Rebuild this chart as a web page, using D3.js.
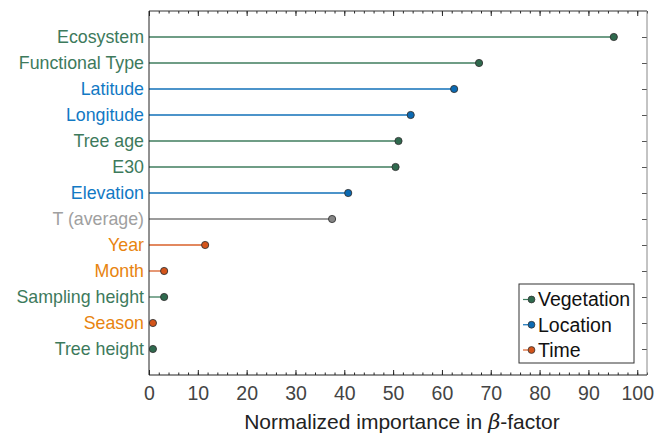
<!DOCTYPE html>
<html>
<head>
<meta charset="utf-8">
<script src="https://cdn.jsdelivr.net/npm/d3@7"></script>
<style>
  body { margin: 0; background: #fff; }
  svg { font-family: "Liberation Sans", Arial, Helvetica, sans-serif; }
</style>
</head>
<body>
<div id="chart"></div>
<script>
// lollipop de importancia normalizada
const variables = ["Ecosystem", "Functional Type", "Latitude", "Longitude", "Tree age", "E30",
  "Elevation", "T (average)", "Year", "Month", "Sampling height", "Season", "Tree height"];
const groups = ["Vegetation", "Vegetation", "Location", "Location", "Vegetation", "Vegetation",
  "Location", "Climate", "Time", "Time", "Vegetation", "Time", "Vegetation"];
const importance = [95.2, 67.6, 62.5, 53.6, 51.1, 50.5, 40.8, 37.5, 11.5, 3.1, 3.1, 0.8, 0.8];
const xTicks = [0, 10, 20, 30, 40, 50, 60, 70, 80, 90, 100];
const legendItems = ["Vegetation", "Location", "Time"];

const STYLE = {
  Vegetation: { text: "#3d7a5c", line: "#3f7d5e", dot: "#2f6a4e" },
  Location: { text: "#1279c4", line: "#1170b8", dot: "#0b6ab3" },
  Time: { text: "#e8840f", line: "#d9602a", dot: "#d4541a" },
  Climate: { text: "#a0a0a0", line: "#7a7a7a", dot: "#858585" },
};

const W = 667, H = 434;
const M = { top: 11, right: 20, bottom: 59, left: 149 };
const innerW = W - M.left - M.right;
const innerH = H - M.top - M.bottom;

const svg = d3.select("#chart").append("svg").attr("width", W).attr("height", H);
const g = svg.append("g").attr("transform", `translate(${M.left},${M.top})`);

const x = d3.scaleLinear().domain([0, 102]).range([0, innerW]);
const y = d3.scaleLinear().domain([0, variables.length + 1]).range([0, innerH]);
const rows = variables.map((v, i) => ({ name: v, group: groups[i], value: importance[i], pos: i + 1 }));

// eixos com ticks para dentro
const minor = d3.range(0, 102.1, 2);
const axisColor = "#262626";

const axBottom = g.append("g").attr("transform", `translate(0,${innerH})`);
axBottom.call(d3.axisBottom(x).tickValues(minor).tickSize(-2.5).tickFormat(""))
  .call((a) => a.select(".domain").remove());
axBottom.append("g").call(d3.axisBottom(x).tickValues(xTicks).tickSize(-5).tickPadding(11))
  .call((a) => a.select(".domain").remove())
  .call((a) => a.selectAll("text").attr("font-size", 19.5).attr("fill", "#444"));
axBottom.selectAll("line").attr("stroke", axisColor);

const axTop = g.append("g");
axTop.call(d3.axisTop(x).tickValues(minor).tickSize(-2.5).tickFormat(""))
  .call((a) => a.select(".domain").remove());
axTop.append("g").call(d3.axisTop(x).tickValues(xTicks).tickSize(-5).tickFormat(""))
  .call((a) => a.select(".domain").remove());
axTop.selectAll("line").attr("stroke", axisColor);

const axRight = g.append("g").attr("transform", `translate(${innerW},0)`);
axRight.call(d3.axisRight(y).tickValues(rows.map((d) => d.pos)).tickSize(-5).tickFormat(""))
  .call((a) => a.select(".domain").remove())
  .call((a) => a.selectAll("line").attr("stroke", "#555"));

// caixa
g.append("line").attr("x1", 0).attr("x2", innerW).attr("y1", 0).attr("y2", 0).attr("stroke", "#333");
g.append("line").attr("x1", innerW).attr("x2", innerW).attr("y1", 0).attr("y2", innerH).attr("stroke", "#888");
g.append("line").attr("x1", 0).attr("x2", innerW).attr("y1", innerH).attr("y2", innerH).attr("stroke", "#222");

// stems
g.selectAll("line.stem").data(rows).join("line")
  .attr("class", "stem")
  .attr("x1", x(0)).attr("x2", (d) => x(d.value))
  .attr("y1", (d) => y(d.pos)).attr("y2", (d) => y(d.pos))
  .attr("stroke", (d) => STYLE[d.group].line)
  .attr("stroke-width", 1.3);

g.append("line").attr("x1", 0).attr("x2", 0).attr("y1", 0).attr("y2", innerH).attr("stroke", "#222");

g.selectAll("circle.dot").data(rows).join("circle")
  .attr("class", "dot")
  .attr("cx", (d) => x(d.value)).attr("cy", (d) => y(d.pos))
  .attr("r", 3.6)
  .attr("fill", (d) => STYLE[d.group].dot)
  .attr("stroke", "#333").attr("stroke-width", 0.9);

// rotulos das variaveis
g.selectAll("text.lbl").data(rows).join("text")
  .attr("class", "lbl")
  .attr("x", -5).attr("y", (d) => y(d.pos))
  .attr("dy", "0.35em")
  .attr("text-anchor", "end")
  .attr("font-size", 17.8)
  .attr("fill", (d) => STYLE[d.group].text)
  .text((d) => d.name);

// titulo do eixo x
const xt = svg.append("text")
  .attr("x", 402).attr("y", H - 5)
  .attr("text-anchor", "middle")
  .attr("font-size", 21).attr("fill", "#222");
xt.append("tspan").text("Normalized importance in ");
xt.append("tspan").attr("font-family", "'DejaVu Serif', serif").attr("font-style", "italic").text("β");
xt.append("tspan").text("-factor");

// legenda
const lg = g.append("g").attr("transform", `translate(${370},${273})`);
lg.append("rect").attr("width", 115).attr("height", 79)
  .attr("fill", "#fff").attr("stroke", "#333").attr("stroke-width", 1);
const ly = d3.scalePoint().domain(legendItems).range([15.5, 66]);
const li = lg.selectAll("g.item").data(legendItems).join("g")
  .attr("class", "item")
  .attr("transform", (d) => `translate(0,${ly(d)})`);
li.append("line").attr("x1", 4).attr("x2", 12.5)
  .attr("stroke", (d) => STYLE[d].line).attr("stroke-width", 1.2);
li.append("circle").attr("cx", 12.5).attr("r", 3.4)
  .attr("fill", (d) => STYLE[d].dot).attr("stroke", "#333").attr("stroke-width", 0.8);
li.append("text").attr("x", 19).attr("dy", "0.35em")
  .attr("font-size", 19.5).attr("fill", "#111").text((d) => d);
</script>
</body>
</html>
